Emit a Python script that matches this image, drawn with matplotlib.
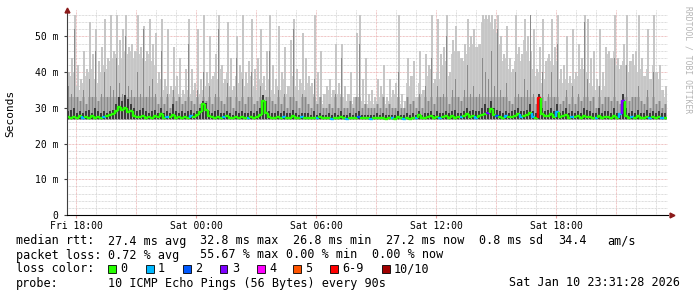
import matplotlib
matplotlib.use("Agg")
import matplotlib.pyplot as plt
from matplotlib.collections import LineCollection
from matplotlib.patches import Rectangle
import numpy as np

# ---------------- data (ms) ----------------
# 200 consolidated columns from Fri ~17:31 to Sat ~23:31
smoke_light_top = [
    40, 44, 56, 42, 38, 46, 41, 54, 45, 52, 43, 47, 55, 44, 56, 46, 56, 49, 52, 56,
    47, 48, 46, 56, 47, 53, 46, 55, 48, 51, 40, 55, 38, 52, 36, 47, 39, 44, 35, 41,
    55, 41, 37, 52, 38, 56, 40, 50, 39, 45, 56, 42, 38, 54, 44, 36, 50, 42, 56, 40,
    43, 55, 41, 44, 52, 39, 46, 56, 42, 38, 53, 40, 47, 36, 49, 55, 41, 38, 51, 44,
    39, 37, 56, 40, 46, 34, 36, 38, 35, 48, 37, 48, 36, 34, 40, 33, 51, 56, 38, 44,
    34, 35, 33, 38, 36, 42, 33, 38, 35, 37, 56, 34, 32, 44, 39, 43, 33, 46, 35, 45,
    42, 56, 38, 55, 45, 47, 56, 40, 49, 53, 46, 44, 48, 55, 50, 52, 47, 48, 56, 56,
    56, 56, 55, 56, 50, 45, 53, 44, 41, 56, 47, 45, 55, 50, 46, 52, 41, 47, 55, 43,
    45, 55, 47, 56, 41, 42, 50, 39, 52, 40, 48, 44, 56, 55, 44, 46, 38, 52, 40, 47,
    46, 44, 56, 44, 42, 48, 56, 43, 45, 46, 56, 44, 39, 52, 38, 56, 40, 42, 35, 36,
]
smoke_light_base = [
    37, 39, 40, 36, 35, 37, 39, 40, 41, 38, 37, 40, 42, 41, 43, 44, 45, 42, 44, 46,
    45, 46, 44, 46, 45, 44, 43, 45, 43, 42, 37, 38, 35, 36, 34, 35, 36, 34, 33, 34,
    35, 34, 35, 33, 34, 35, 36, 37, 38, 40, 38, 41, 37, 40, 36, 35, 39, 37, 40, 36,
    37, 39, 36, 35, 38, 37, 35, 38, 35, 34, 36, 35, 38, 34, 36, 39, 36, 35, 37, 35,
    37, 36, 34, 32, 32, 31, 34, 35, 33, 35, 34, 34, 33, 32, 34, 31, 32, 33, 32, 31,
    31, 32, 31, 32, 33, 34, 31, 32, 33, 34, 32, 31, 30, 37, 36, 39, 40, 37, 34, 35,
    39, 41, 37, 40, 38, 42, 43, 39, 45, 46, 47, 44, 43, 45, 47, 48, 49, 51, 54, 55,
    55, 54, 52, 51, 48, 43, 44, 41, 40, 43, 45, 43, 49, 46, 43, 41, 39, 40, 37, 38,
    44, 43, 42, 43, 38, 37, 38, 37, 37, 38, 39, 41, 41, 40, 37, 36, 35, 36, 35, 36,
    45, 44, 46, 42, 41, 43, 42, 40, 43, 42, 40, 41, 39, 41, 38, 42, 40, 38, 35, 33,
]
smoke_mid_top = [
    36, 34, 52, 33, 32, 35, 31, 38, 33, 46, 32, 34, 40, 33, 36, 35, 44, 37, 34, 50,
    36, 35, 33, 40, 34, 52, 33, 36, 38, 34, 31, 46, 31, 34, 30, 35, 32, 33, 31, 32,
    48, 32, 31, 35, 31, 40, 32, 36, 31, 34, 52, 32, 31, 37, 33, 30, 44, 32, 38, 31,
    33, 40, 31, 32, 36, 31, 33, 46, 32, 31, 35, 31, 34, 30, 33, 52, 32, 30, 34, 33,
    31, 30, 38, 31, 33, 30, 30, 31, 30, 34, 30, 44, 30, 30, 32, 30, 33, 48, 30, 31,
    30, 30, 30, 31, 30, 33, 30, 31, 30, 30, 40, 30, 30, 33, 31, 32, 30, 34, 30, 36,
    32, 44, 31, 36, 33, 34, 50, 31, 35, 38, 33, 32, 35, 42, 34, 36, 33, 34, 44, 40,
    38, 46, 36, 52, 35, 33, 37, 32, 31, 40, 34, 33, 38, 35, 56, 34, 31, 33, 40, 32,
    34, 40, 33, 48, 31, 32, 35, 31, 36, 31, 34, 32, 54, 38, 32, 33, 30, 36, 31, 33,
    33, 32, 44, 32, 31, 34, 42, 32, 33, 33, 36, 32, 31, 35, 30, 40, 31, 32, 30, 31,
]
smoke_dark_top = [
    29, 29.5, 30, 28.5, 29, 28.5, 29, 29.5, 28.5, 30, 29, 28.5, 29, 28.5, 29, 29.5, 31, 33, 32, 33.5,
    32.5, 31, 30, 29, 29.5, 30, 29, 28.5, 29, 29.5, 28.5, 30, 28.5, 29, 28.5, 31, 29, 28.5, 29, 28.5,
    29, 29.5, 28.5, 29, 30, 32, 31.5, 29, 28.5, 29, 29.5, 28.5, 28.5, 29, 28.5, 28, 29, 28.5, 29, 28.5,
    28.5, 29, 28.5, 29, 30, 33.5, 32, 29, 28.5, 28.5, 29, 28.5, 29, 28.5, 28.5, 29.5, 28.5, 28, 28.5, 28.5,
    28.5, 28, 29, 28, 28.5, 28, 28, 28.5, 28, 28.5, 28, 29, 28, 28, 28.5, 28, 28.5, 29, 28, 28,
    28, 28, 28, 28.5, 28, 28.5, 28, 28, 28, 28, 29, 28, 28, 28.5, 28, 28.5, 28, 29, 28, 28.5,
    28.5, 29, 28, 29, 28.5, 28.5, 29, 28.5, 29, 29.5, 28.5, 28.5, 29, 30, 29, 29.5, 29, 29, 30, 31,
    30, 32, 30, 29.5, 29, 28.5, 29, 28.5, 29, 29.5, 30, 29, 29, 29.5, 31, 29, 28.5, 34, 30, 29,
    29.5, 30, 29, 31, 28.5, 29, 30, 28.5, 29, 28.5, 29, 28.5, 30, 29.5, 29, 28.5, 28.5, 30, 28.5, 29,
    29, 28.5, 30, 28.5, 28.5, 34, 30, 28.5, 29, 28.5, 29.5, 28.5, 28.5, 29.5, 28.5, 29, 28.5, 29, 28.5, 28.5,
]
median_rtt = [
    27.4, 27.2, 27.5, 27.3, 27.6, 27.2, 27.4, 27.3, 27.8, 27.2, 27.5, 27.3, 27.4, 27.6, 27.9, 28.2, 29.0, 30.2, 29.4, 30.0,
    28.8, 29.2, 27.8, 27.5, 27.4, 27.8, 27.3, 27.5, 27.2, 27.6, 27.4, 28.2, 27.3, 27.5, 27.4, 28.0, 27.3, 27.5, 27.2, 27.4,
    27.3, 27.6, 27.4, 28.0, 28.8, 31.0, 29.5, 27.8, 27.4, 27.3, 27.5, 27.2, 27.4, 27.6, 27.3, 27.2, 27.5, 27.3, 27.4, 27.2,
    27.3, 27.5, 27.2, 27.4, 28.0, 32.0, 28.5, 27.4, 27.3, 27.2, 27.5, 27.3, 27.4, 27.2, 27.3, 27.6, 27.3, 27.2, 27.4, 27.3,
    27.2, 27.1, 27.3, 27.2, 27.4, 27.1, 27.2, 27.3, 27.0, 27.2, 27.1, 27.4, 27.2, 27.0, 27.3, 27.1, 27.2, 27.5, 27.1, 27.2,
    27.1, 27.0, 27.2, 27.3, 27.1, 27.2, 27.0, 27.1, 27.2, 27.0, 27.4, 27.1, 26.9, 27.2, 27.0, 27.3, 27.1, 28.0, 27.2, 27.3,
    27.4, 27.8, 27.2, 27.5, 27.3, 27.4, 27.7, 27.2, 27.6, 27.3, 27.5, 27.4, 27.6, 28.2, 27.4, 27.8, 27.3, 27.6, 28.0, 28.4,
    28.5, 29.8, 27.9, 27.6, 27.4, 27.3, 27.8, 27.4, 27.5, 27.8, 28.2, 27.5, 27.6, 27.9, 28.6, 27.4, 27.3, 32.8, 28.2, 27.6,
    27.8, 28.4, 27.5, 28.8, 27.4, 27.6, 28.0, 27.3, 27.5, 27.4, 27.6, 27.3, 27.8, 27.5, 27.4, 27.3, 27.2, 27.8, 27.3, 27.5,
    27.4, 27.3, 27.6, 27.2, 28.4, 31.8, 27.8, 27.3, 27.5, 27.2, 27.6, 27.3, 27.2, 27.5, 27.3, 27.4, 27.2, 27.5, 27.3, 27.2,
]
loss_count = [0] * 200
for _i in [5, 12, 33, 41, 52, 60, 72, 78, 83, 88, 93, 101, 108, 112, 116, 124, 131, 136,
           146, 151, 155, 163, 168, 176, 184, 188, 194, 198]:
    loss_count[_i] = 1
loss_count[97] = 2
loss_count[143] = 2
loss_count[140] = 3
loss_count[185] = 3
loss_count[157] = 6

loss_labels = ["0", "1", "2", "3", "4", "5", "6-9", "10/10"]
loss_colors = ["#26ff00", "#00b8ff", "#0059ff", "#7e00ff", "#ff00ff", "#ff5500", "#ff0000", "#a10000"]

time_ticks_h = [0, 6, 12, 18, 24]
time_labels = ["Fri 18:00", "Sat 00:00", "Sat 06:00", "Sat 12:00", "Sat 18:00"]
y_ticks = [0, 10, 20, 30, 40, 50]
y_labels = ["0", "10 m", "20 m", "30 m", "40 m", "50 m"]

stats_rtt = ["median rtt:", "27.4 ms avg", "32.8 ms max", "26.8 ms min", "27.2 ms now", "0.8 ms sd", "34.4", "am/s"]
stats_loss = ["packet loss:", "0.72 % avg", "55.67 % max", "0.00 % min", "0.00 % now"]
probe_text = "10 ICMP Echo Pings (56 Bytes) every 90s"
stamp_text = "Sat Jan 10 23:31:28 2026"

# ---------------- figure ----------------
W, H = 697, 297
fig = plt.figure(figsize=(W / 100, H / 100), dpi=100)
fig.patch.set_facecolor("white")
mono = "DejaVu Sans Mono"

def fx(px):
    return px / W

def fy(py):
    return 1 - py / H

ax = fig.add_axes([fx(67), fy(215), (668 - 67) / W, (215 - 10) / H])
ax.set_facecolor("white")

n = len(median_rtt)
t0, dt = -0.45, 0.15
xl = t0 + dt * np.arange(n)
ax.set_xlim(-0.45, 29.6)
ax.set_ylim(0, 57.4)

# grid
minor_x = np.arange(0, 30, 1)
major_x = np.arange(0, 30, 3)
minor_y = np.arange(0, 57, 2)
major_y = np.arange(0, 57, 10)
dot = (0, (0.72, 0.72))
for v in minor_x:
    if v not in major_x:
        ax.axvline(v, color="#d2d2d2", lw=0.72, ls=dot, zorder=0)
for v in minor_y:
    if v not in major_y:
        ax.axhline(v, color="#d2d2d2", lw=0.72, ls=dot, zorder=0)
for v in major_x:
    ax.axvline(v, color="#eab0b0", lw=0.72, ls=dot, zorder=0)
for v in major_y[1:]:
    ax.axhline(v, color="#eab0b0", lw=0.72, ls=dot, zorder=0)

# smoke
lt = np.array(smoke_light_top)
lb = np.minimum(np.array(smoke_light_base), lt)
mt = np.array(smoke_mid_top)
dk = np.array(smoke_dark_top)
ax.bar(xl, lb - 26.6, bottom=26.6, width=dt, align="edge", color="#cccccc", linewidth=0, zorder=1)
ax.bar(xl + dt / 3, lt - 26.6, bottom=26.6, width=dt * 2 / 3, align="edge", color="#c6c6c6", linewidth=0, zorder=1)
ax.bar(xl, np.minimum(mt, 33.0) - 26.7, bottom=26.7, width=dt, align="edge", color="#ababab", linewidth=0, zorder=2)
ax.bar(xl + dt / 3, mt - 26.7, bottom=26.7, width=dt / 3, align="edge", color="#8a8a8a", linewidth=0, zorder=2)
ax.bar(xl, dk - 26.8, bottom=26.8, width=dt * 2 / 3, align="edge", color="#3c3c3c", linewidth=0, zorder=3)

# median line coloured by loss
med = np.array(median_rtt)
segs, cols = [], []
for i in range(n):
    x0 = xl[i]
    pts = [(x0, med[i]), (x0 + dt, med[i])]
    if i > 0:
        pts = [(x0, med[i - 1])] + pts
    segs.append(pts)
    cols.append(loss_colors[loss_count[i]])
lc = LineCollection(segs, colors=cols, linewidths=1.7, zorder=4, capstyle="butt")
ax.add_collection(lc)

# axes styling
for s in ["top", "right"]:
    ax.spines[s].set_visible(False)
ax.spines["left"].set_color("#404040")
ax.spines["bottom"].set_color("#000000")
ax.spines["left"].set_linewidth(0.8)
ax.spines["bottom"].set_linewidth(0.8)
ax.spines["left"].set_zorder(6)
ax.spines["bottom"].set_zorder(6)
ax.set_xticks(time_ticks_h)
ax.set_xticklabels(time_labels, fontfamily=mono, fontsize=7)
ax.set_yticks(y_ticks)
ax.set_yticklabels(y_labels, fontfamily=mono, fontsize=7)
ax.tick_params(axis="x", length=2, pad=2, color="#e8a0a0")
ax.tick_params(axis="y", length=2, pad=4, color="#404040")

# arrows
ax.plot([-0.45], [57.4], marker="^", color="#8b1a1a", markersize=3.5, clip_on=False, zorder=7)
ax.plot([29.78], [0], marker=">", color="#8b1a1a", markersize=3.5, clip_on=False, zorder=7)

fig.text(fx(10.5), fy(113), "Seconds", rotation=90, ha="center", va="center",
         fontfamily=mono, fontsize=8)
fig.text(fx(688), fy(60), "RRDTOOL / TOBI OETIKER", rotation=270, ha="center", va="center",
         fontfamily=mono, fontsize=5.8, color="#b4b4b4")

# legend lines
fs = 8.5
row_y = [241, 255, 269, 283]
rtt_x = [16, 108, 200.5, 293, 386, 479, 558, 607]
for s, x in zip(stats_rtt, rtt_x):
    fig.text(fx(x), fy(row_y[0]), s, fontfamily=mono, fontsize=fs, va="center", ha="left")
loss_x = [16, 108, 200.5, 286, 372]
for s, x in zip(stats_loss, loss_x):
    fig.text(fx(x), fy(row_y[1]), s, fontfamily=mono, fontsize=fs, va="center", ha="left")

fig.text(fx(16), fy(row_y[2]), "loss color:", fontfamily=mono, fontsize=fs, va="center", ha="left")
sq_x = [108, 146, 183, 220, 257, 293, 330, 382]
for lab, col, x in zip(loss_labels, loss_colors, sq_x):
    fig.patches.append(Rectangle((fx(x), fy(272.5)), 7.5 / W, 7.5 / H, transform=fig.transFigure,
                                 facecolor=col, edgecolor="black", linewidth=0.6))
    fig.text(fx(x + 12), fy(row_y[2]), lab, fontfamily=mono, fontsize=fs, va="center", ha="left")

fig.text(fx(16), fy(row_y[3]), "probe:", fontfamily=mono, fontsize=fs, va="center", ha="left")
fig.text(fx(108), fy(row_y[3]), probe_text, fontfamily=mono, fontsize=fs, va="center", ha="left")
fig.text(fx(680), fy(row_y[3]), stamp_text, fontfamily=mono, fontsize=fs, va="center", ha="right")

fig.savefig("out.png", dpi=100, facecolor="white")
